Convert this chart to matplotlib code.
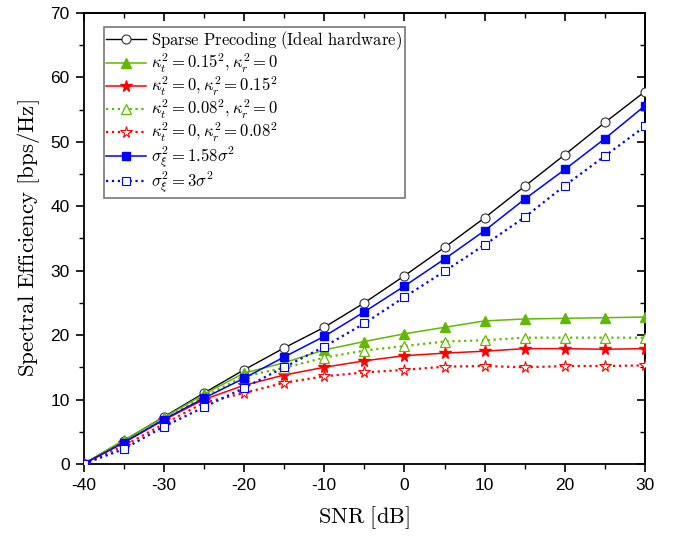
import matplotlib
matplotlib.use("Agg")
import matplotlib.pyplot as plt
from matplotlib.ticker import MultipleLocator

plt.rcParams['mathtext.fontset'] = 'cm'
plt.rcParams['axes.unicode_minus'] = False
plt.rcParams['font.family'] = ['Liberation Sans', 'DejaVu Sans']

snr = [-40, -35, -30, -25, -20, -15, -10, -5, 0, 5, 10, 15, 20, 25, 30]
ideal = [0, 3.6, 7.3, 11.0, 14.6, 18.0, 21.2, 25.0, 29.2, 33.6, 38.2, 43.1, 48.0, 53.0, 57.8]
kt015 = [0, 3.7, 7.2, 10.8, 14.1, 15.7, 17.7, 19.0, 20.2, 21.2, 22.2, 22.5, 22.6, 22.7, 22.8]
kr015 = [0, 3.3, 6.8, 10.0, 12.2, 13.8, 15.0, 16.0, 16.8, 17.2, 17.5, 17.9, 17.9, 17.8, 17.9]
kt008 = [0, 3.5, 7.1, 10.4, 13.6, 14.9, 16.5, 17.6, 18.3, 19.0, 19.2, 19.6, 19.6, 19.6, 19.6]
kr008 = [0, 2.8, 6.2, 9.5, 11.0, 12.6, 13.6, 14.2, 14.6, 15.1, 15.2, 15.0, 15.2, 15.2, 15.3]
sig158 = [0, 3.3, 6.9, 10.2, 13.3, 16.6, 19.8, 23.6, 27.6, 31.8, 36.2, 41.1, 45.7, 50.5, 55.6]
sig3 = [0, 2.3, 5.8, 8.8, 11.8, 15.0, 18.2, 21.8, 25.9, 29.9, 34.0, 38.3, 43.2, 47.8, 52.4]

labels = [
    r'$\mathrm{Sparse\ Precoding\ (Ideal\ hardware)}$',
    r'$\kappa_t^2 = 0.15^2, \kappa_r^2 = 0$',
    r'$\kappa_t^2 = 0, \kappa_r^2 = 0.15^2$',
    r'$\kappa_t^2 = 0.08^2, \kappa_r^2 = 0$',
    r'$\kappa_t^2 = 0, \kappa_r^2 = 0.08^2$',
    r'$\sigma_\xi^2 = 1.58\sigma^2$',
    r'$\sigma_\xi^2 = 3\sigma^2$',
]

green = '#62b800'
red = '#ff0000'
blue = '#0000ff'

fig = plt.figure(figsize=(6.79, 5.37), dpi=100)
ax = fig.add_axes([0.123, 0.136, 0.827, 0.840])

ms = 6.5
ax.plot(snr, ideal, '-', color='black', lw=1.0, marker='o', ms=ms, mfc='white', mec='#333333', mew=0.8, label=labels[0], zorder=3)
ax.plot(snr, kt015, '-', color=green, lw=1.1, marker='^', ms=ms + 1, mfc=green, mec=green, label=labels[1], zorder=4)
ax.plot(snr, kr015, '-', color=red, lw=1.1, marker='*', ms=ms + 2, mfc=red, mec=red, label=labels[2], zorder=4)
ax.plot(snr, kt008, ':', color=green, lw=1.6, marker='^', ms=ms + 1, mfc='white', mec=green, mew=0.9, label=labels[3], zorder=4)
ax.plot(snr, kr008, ':', color=red, lw=1.6, marker='*', ms=ms + 2, mfc='white', mec=red, mew=0.8, label=labels[4], zorder=4)
ax.plot(snr, sig158, '-', color=blue, lw=1.1, marker='s', ms=ms - 0.5, mfc=blue, mec=blue, label=labels[5], zorder=4)
ax.plot(snr, sig3, ':', color=blue, lw=1.6, marker='s', ms=ms - 0.5, mfc='white', mec=blue, mew=0.8, label=labels[6], zorder=4)

ax.set_xlim(-40, 30)
ax.set_ylim(0, 70)
ax.xaxis.set_major_locator(MultipleLocator(10))
ax.xaxis.set_minor_locator(MultipleLocator(5))
ax.yaxis.set_major_locator(MultipleLocator(10))
ax.yaxis.set_minor_locator(MultipleLocator(5))
ax.tick_params(which='major', direction='out', length=6, width=1.2, labelsize=12.5, pad=4)
ax.tick_params(which='minor', direction='out', length=3.5, width=1.0)
for s in ax.spines.values():
    s.set_linewidth(1.3)

top = ax.secondary_xaxis('top')
top.xaxis.set_major_locator(MultipleLocator(10))
top.xaxis.set_minor_locator(MultipleLocator(5))
top.tick_params(which='major', direction='in', length=6, width=1.2, labeltop=False)
top.tick_params(which='minor', direction='in', length=3.5, width=1.0)
top.spines['top'].set_linewidth(1.3)
right = ax.secondary_yaxis('right')
right.yaxis.set_major_locator(MultipleLocator(10))
right.yaxis.set_minor_locator(MultipleLocator(5))
right.tick_params(which='major', direction='in', length=6, width=1.2, labelright=False)
right.tick_params(which='minor', direction='in', length=3.5, width=1.0)
right.spines['right'].set_linewidth(1.3)

ax.set_xlabel(r'$\mathrm{SNR\ [dB]}$', fontsize=16, labelpad=8)
ax.set_ylabel(r'$\mathrm{Spectral\ Efficiency\ [bps/Hz]}$', fontsize=16.5, labelpad=6)

leg = ax.legend(loc='upper left', bbox_to_anchor=(0.036, 0.969), fontsize=12, frameon=True,
                fancybox=False, edgecolor='#555555', handlelength=2.4, handletextpad=0.3,
                borderpad=0.15, labelspacing=0.0, borderaxespad=0.0)
leg.get_frame().set_linewidth(1.2)

fig.savefig('out.png', dpi=100)
